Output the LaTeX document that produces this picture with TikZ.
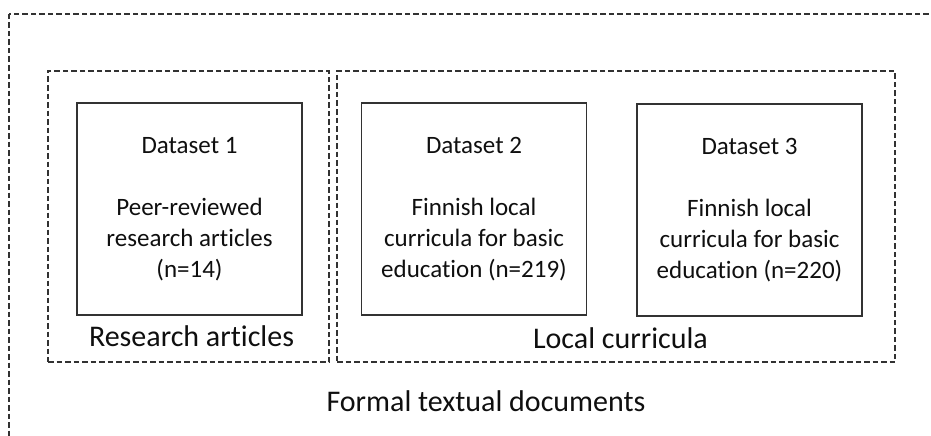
\documentclass[tikz,border=0pt]{standalone}
\usepackage{fontspec}
\setmainfont{Carlito}[Ligatures=NoCommon]
\usetikzlibrary{positioning}
\definecolor{boxgray}{RGB}{50, 50, 50}
\definecolor{textdark}{RGB}{15, 15, 15}

\begin{document}
\begin{tikzpicture}[x=1pt, y=-1pt,
  dashline/.style={draw=boxgray, dash pattern=on 5.5pt off 3pt, line width=1.1pt},
  databox/.style={draw=boxgray, line width=1.3pt, minimum width=225pt, minimum height=212pt, inner sep=0pt, align=center, text=textdark, font=\fontsize{25}{31}\selectfont},
  groupbox/.style={dashline, minimum height=291pt, inner sep=0pt},
  grouplabel/.style={anchor=base, text=textdark, font=\fontsize{30}{36}\selectfont}]
  \useasboundingbox (0,0) rectangle (931,436);
  \clip (0,0) rectangle (931,436);

  % Outer frame (runs past the right and bottom edges)
  \draw[dashline] (9,14) rectangle (950,455);

  % Groups
  \node[groupbox, minimum width=281pt] (art) at (188.5,216.5) {};
  \node[groupbox, minimum width=558pt] (loc) at (616,216.5) {};

  % Datasets
  \node[databox] (ds1) at (189.5,209) {Dataset 1\\[31pt]Peer-reviewed\\research articles\\(n=14)};
  \node[databox] (ds2) at (474,209) {Dataset 2\\[31pt]Finnish local\\curricula for basic\\education (n=219)};
  \node[databox] (ds3) at (749.5,210) {Dataset 3\\[31pt]Finnish local\\curricula for basic\\education (n=220)};

  % Labels
  \node[grouplabel] (artlbl) at (191.5,346) {Research articles};
  \node[grouplabel] (loclbl) at (620.5,348) {Local curricula};
  \node[grouplabel] (docslbl) at (486,411) {Formal textual documents};
\end{tikzpicture}
\end{document}
